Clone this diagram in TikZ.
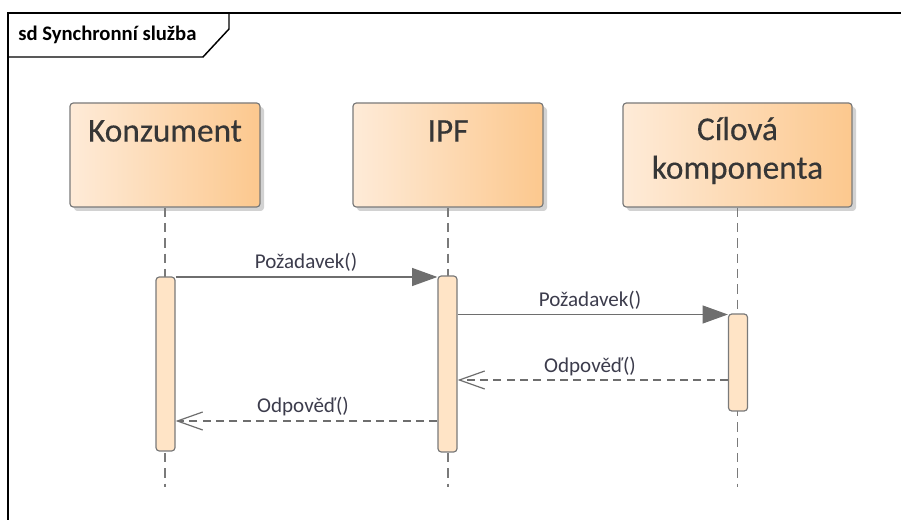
\documentclass[tikz,border=0pt]{standalone}
\usepackage{fontspec}
\setmainfont{Carlito}
\newfontfamily\heavyfont[FakeBold=0.35]{Carlito}
\usetikzlibrary{arrows.meta,shadows}
\definecolor{boxL}{HTML}{FEEBD8}
\definecolor{boxR}{HTML}{FCC88E}
\definecolor{barfill}{HTML}{FFE4C6}
\definecolor{edgec}{HTML}{7A7A7A}
\definecolor{txtc}{HTML}{363636}
\definecolor{lblc}{HTML}{3C3C4C}
\definecolor{msgc}{HTML}{6E6E6E}
\tikzset{
  lifebox/.style={draw=edgec, line width=0.9pt, rounded corners=2.5pt, shading=axis, left color=boxL, right color=boxR, shading angle=90,
    minimum height=78pt, inner sep=0pt,
    drop shadow={shadow xshift=3pt, shadow yshift=-3pt, fill=gray!70, opacity=0.5}},
  lifetitle/.style={text=txtc, font=\heavyfont\fontsize{25}{29}\selectfont, align=center, inner sep=0pt},
  actbar/.style={draw=edgec, line width=0.9pt, fill=barfill, rounded corners=2.5pt, minimum width=14.25pt, inner sep=0pt},
  lifeline/.style={draw=edgec, line width=0.9pt, dash pattern=on 7pt off 4.5pt},
  callmsg/.style={draw=msgc, line width=0.9pt, -{Triangle[length=19pt, width=13.5pt, fill=msgc]}},
  retmsg/.style={draw=msgc, line width=0.9pt, dash pattern=on 6pt off 4pt, -{Straight Barb[length=19pt, width=13.5pt]}},
  msglabel/.style={text=lblc, font=\fontsize{15.8}{18}\selectfont, inner sep=0pt},
  framec/.style={draw=black, line width=1.1pt}
}
\begin{document}
\begin{tikzpicture}[x=0.75pt,y=-0.75pt]
\useasboundingbox (0,0) rectangle (901,520);
% frame
\draw[framec] (8,530) -- (8,13) -- (910,13);
\draw[framec] (8,57) -- (203,57) -- (229,29) -- (229,13);
\node[anchor=west, inner sep=0pt, font=\bfseries\fontsize{15.5}{18}\selectfont] (title) at (18,35) {sd Synchronní služba};
% lifelines
\coordinate (lend) at (0,487);
\node[lifebox, minimum width=142.5pt] (kbox) at (165,155) {};
\node[lifebox, minimum width=142.5pt] (ibox) at (448,155) {};
\node[lifebox, minimum width=171.75pt] (cbox) at (737.5,155) {};
\node[lifetitle] (kt) at (165,131) {Konzument};
\node[lifetitle] (it) at (448,131) {IPF};
\node[lifetitle] (ct) at (737.5,150.5) {Cílová\\komponenta};
\draw[lifeline] (kbox.south) -- (kbox.south |- lend);
\draw[lifeline] (ibox.south) -- (ibox.south |- lend);
\draw[lifeline] (cbox.south) -- (cbox.south |- lend);
% activation bars
\node[actbar, minimum height=130.5pt] (kbar) at (165.5,364) {};
\node[actbar, minimum height=132pt] (ibar) at (447.5,364) {};
\node[actbar, minimum height=72.75pt] (cbar) at (738,362.5) {};
% messages
\coordinate (y1) at (0,277);
\coordinate (y2) at (0,314.5);
\coordinate (y3) at (0,380);
\coordinate (y4) at (0,421);
\draw[callmsg] (kbar.east |- y1) -- (ibar.west |- y1);
\draw[callmsg] (ibar.east |- y2) -- (cbar.west |- y2);
\draw[retmsg] (cbar.west |- y3) -- (ibar.east |- y3);
\draw[retmsg] (ibar.west |- y4) -- (kbar.east |- y4);
\node[msglabel] (l1) at (306,262) {Požadavek()};
\node[msglabel] (l2) at (590,300) {Požadavek()};
\node[msglabel] (l3) at (590,366) {Odpověď()};
\node[msglabel] (l4) at (303,406) {Odpověď()};
\end{tikzpicture}
\end{document}
